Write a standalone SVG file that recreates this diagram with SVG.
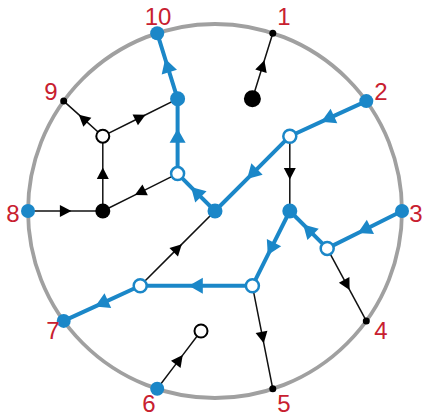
<svg xmlns="http://www.w3.org/2000/svg" width="423" height="417" viewBox="0 0 423 417">
<style>
.ring{fill:none;stroke:#a0a0a0;stroke-width:3.8}
.eb{fill:none;stroke:#1b87c8;stroke-width:4;stroke-linejoin:round;marker-mid:url(#ab)}
.ek{fill:none;stroke:#111;stroke-width:1.5;marker-mid:url(#ak)}
.bf{fill:#1b87c8}
.bo{fill:#fff;stroke:#1b87c8;stroke-width:2.5}
.kf{fill:#000}
.ko{fill:#fff;stroke:#000;stroke-width:2}
.lb{font-family:"Liberation Sans",Arial,sans-serif;font-size:24px;fill:#c8202f;text-anchor:middle}
</style>
<defs>
<marker id="ab" markerUnits="userSpaceOnUse" markerWidth="20" markerHeight="20" viewBox="-10 -10 20 20" refX="0" refY="0" orient="auto" overflow="visible">
<path d="M-6.5,-8 L7.5,0 L-6.5,8 Z" fill="#1b87c8"/>
</marker>
<marker id="ak" markerUnits="userSpaceOnUse" markerWidth="20" markerHeight="20" viewBox="-10 -10 20 20" refX="0" refY="0" orient="auto" overflow="visible">
<path d="M-5.5,-6 L6,0 L-5.5,6 Z" fill="#000"/>
</marker>
</defs>
<circle class="ring" cx="215" cy="211" r="187"/>
<g id="connectors">
<path class="eb" d="M366.3,101.1 L328.05,118.65 L289.8,136.2"/>
<path class="eb" d="M289.8,136.2 L252.4,173.6 L215,211"/>
<path class="eb" d="M215,211 L196.3,192.3 L177.6,173.6"/>
<path class="eb" d="M177.6,173.6 L177.6,136.2 L177.6,98.8"/>
<path class="eb" d="M177.6,98.8 L167.4,66 L157.2,33.2"/>
<path class="eb" d="M402,211 L364.6,229.7 L327.2,248.4"/>
<path class="eb" d="M327.2,248.4 L308.5,229.7 L289.8,211"/>
<path class="eb" d="M289.8,211 L271.1,248.4 L252.4,285.8"/>
<path class="eb" d="M252.4,285.8 L196.3,285.8 L140.2,285.8"/>
<path class="eb" d="M140.2,285.8 L101.95,303.35 L63.7,320.9"/>
<path class="ek" d="M252.4,98.8 L262.6,66 L272.8,33.2"/>
<path class="ek" d="M289.8,136.2 L289.8,173.6 L289.8,211"/>
<path class="ek" d="M327.2,248.4 L346.75,284.65 L366.3,320.9"/>
<path class="ek" d="M252.4,285.8 L262.6,337.3 L272.8,388.8"/>
<path class="ek" d="M140.2,285.8 L177.6,248.4 L215,211"/>
<path class="ek" d="M177.6,173.6 L140.2,192.3 L102.8,211"/>
<path class="ek" d="M28,211 L65.4,211 L102.8,211"/>
<path class="ek" d="M102.8,211 L102.8,173.6 L102.8,136.2"/>
<path class="ek" d="M102.8,136.2 L83.25,118.65 L63.7,101.1"/>
<path class="ek" d="M102.8,136.2 L140.2,117.5 L177.6,98.8"/>
<path class="ek" d="M157.2,388.8 L179.1,359.9 L201,331"/>
</g>
<g id="n1"><circle class="kf" cx="272.8" cy="33.2" r="3.5"/><text class="lb" x="284" y="25">1</text></g>
<g id="n2"><circle class="bf" cx="366.3" cy="101.1" r="7"/><text class="lb" x="381" y="100">2</text></g>
<g id="n3"><circle class="bf" cx="402" cy="211" r="7"/><text class="lb" x="416" y="222">3</text></g>
<g id="n4"><circle class="kf" cx="366.3" cy="320.9" r="3.5"/><text class="lb" x="381" y="339">4</text></g>
<g id="n5"><circle class="kf" cx="272.8" cy="388.8" r="3.5"/><text class="lb" x="284" y="412">5</text></g>
<g id="n6"><circle class="bf" cx="157.2" cy="388.8" r="7"/><text class="lb" x="149" y="412">6</text></g>
<g id="n7"><circle class="bf" cx="63.7" cy="320.9" r="7"/><text class="lb" x="53" y="339">7</text></g>
<g id="n8"><circle class="bf" cx="28" cy="211" r="7"/><text class="lb" x="13" y="222">8</text></g>
<g id="n9"><circle class="kf" cx="63.7" cy="101.1" r="3.5"/><text class="lb" x="51" y="100">9</text></g>
<g id="n10"><circle class="bf" cx="157.2" cy="33.2" r="7"/><text class="lb" x="158" y="25">10</text></g>
<g id="A"><circle class="kf" cx="252.4" cy="98.8" r="8.5"/></g>
<g id="B"><circle class="bf" cx="177.6" cy="98.8" r="7.5"/></g>
<g id="C"><circle class="ko" cx="102.8" cy="136.2" r="6.5"/></g>
<g id="D"><circle class="bo" cx="177.6" cy="173.6" r="6.5"/></g>
<g id="E"><circle class="kf" cx="102.8" cy="211" r="7.5"/></g>
<g id="F"><circle class="bf" cx="215" cy="211" r="7.5"/></g>
<g id="G"><circle class="bo" cx="289.8" cy="136.2" r="6.5"/></g>
<g id="H"><circle class="bf" cx="289.8" cy="211" r="7.5"/></g>
<g id="I"><circle class="bo" cx="327.2" cy="248.4" r="6.5"/></g>
<g id="J"><circle class="bo" cx="252.4" cy="285.8" r="6.5"/></g>
<g id="K"><circle class="bo" cx="140.2" cy="285.8" r="6.5"/></g>
<g id="L"><circle class="ko" cx="201" cy="331" r="6.5"/></g>
</svg>
